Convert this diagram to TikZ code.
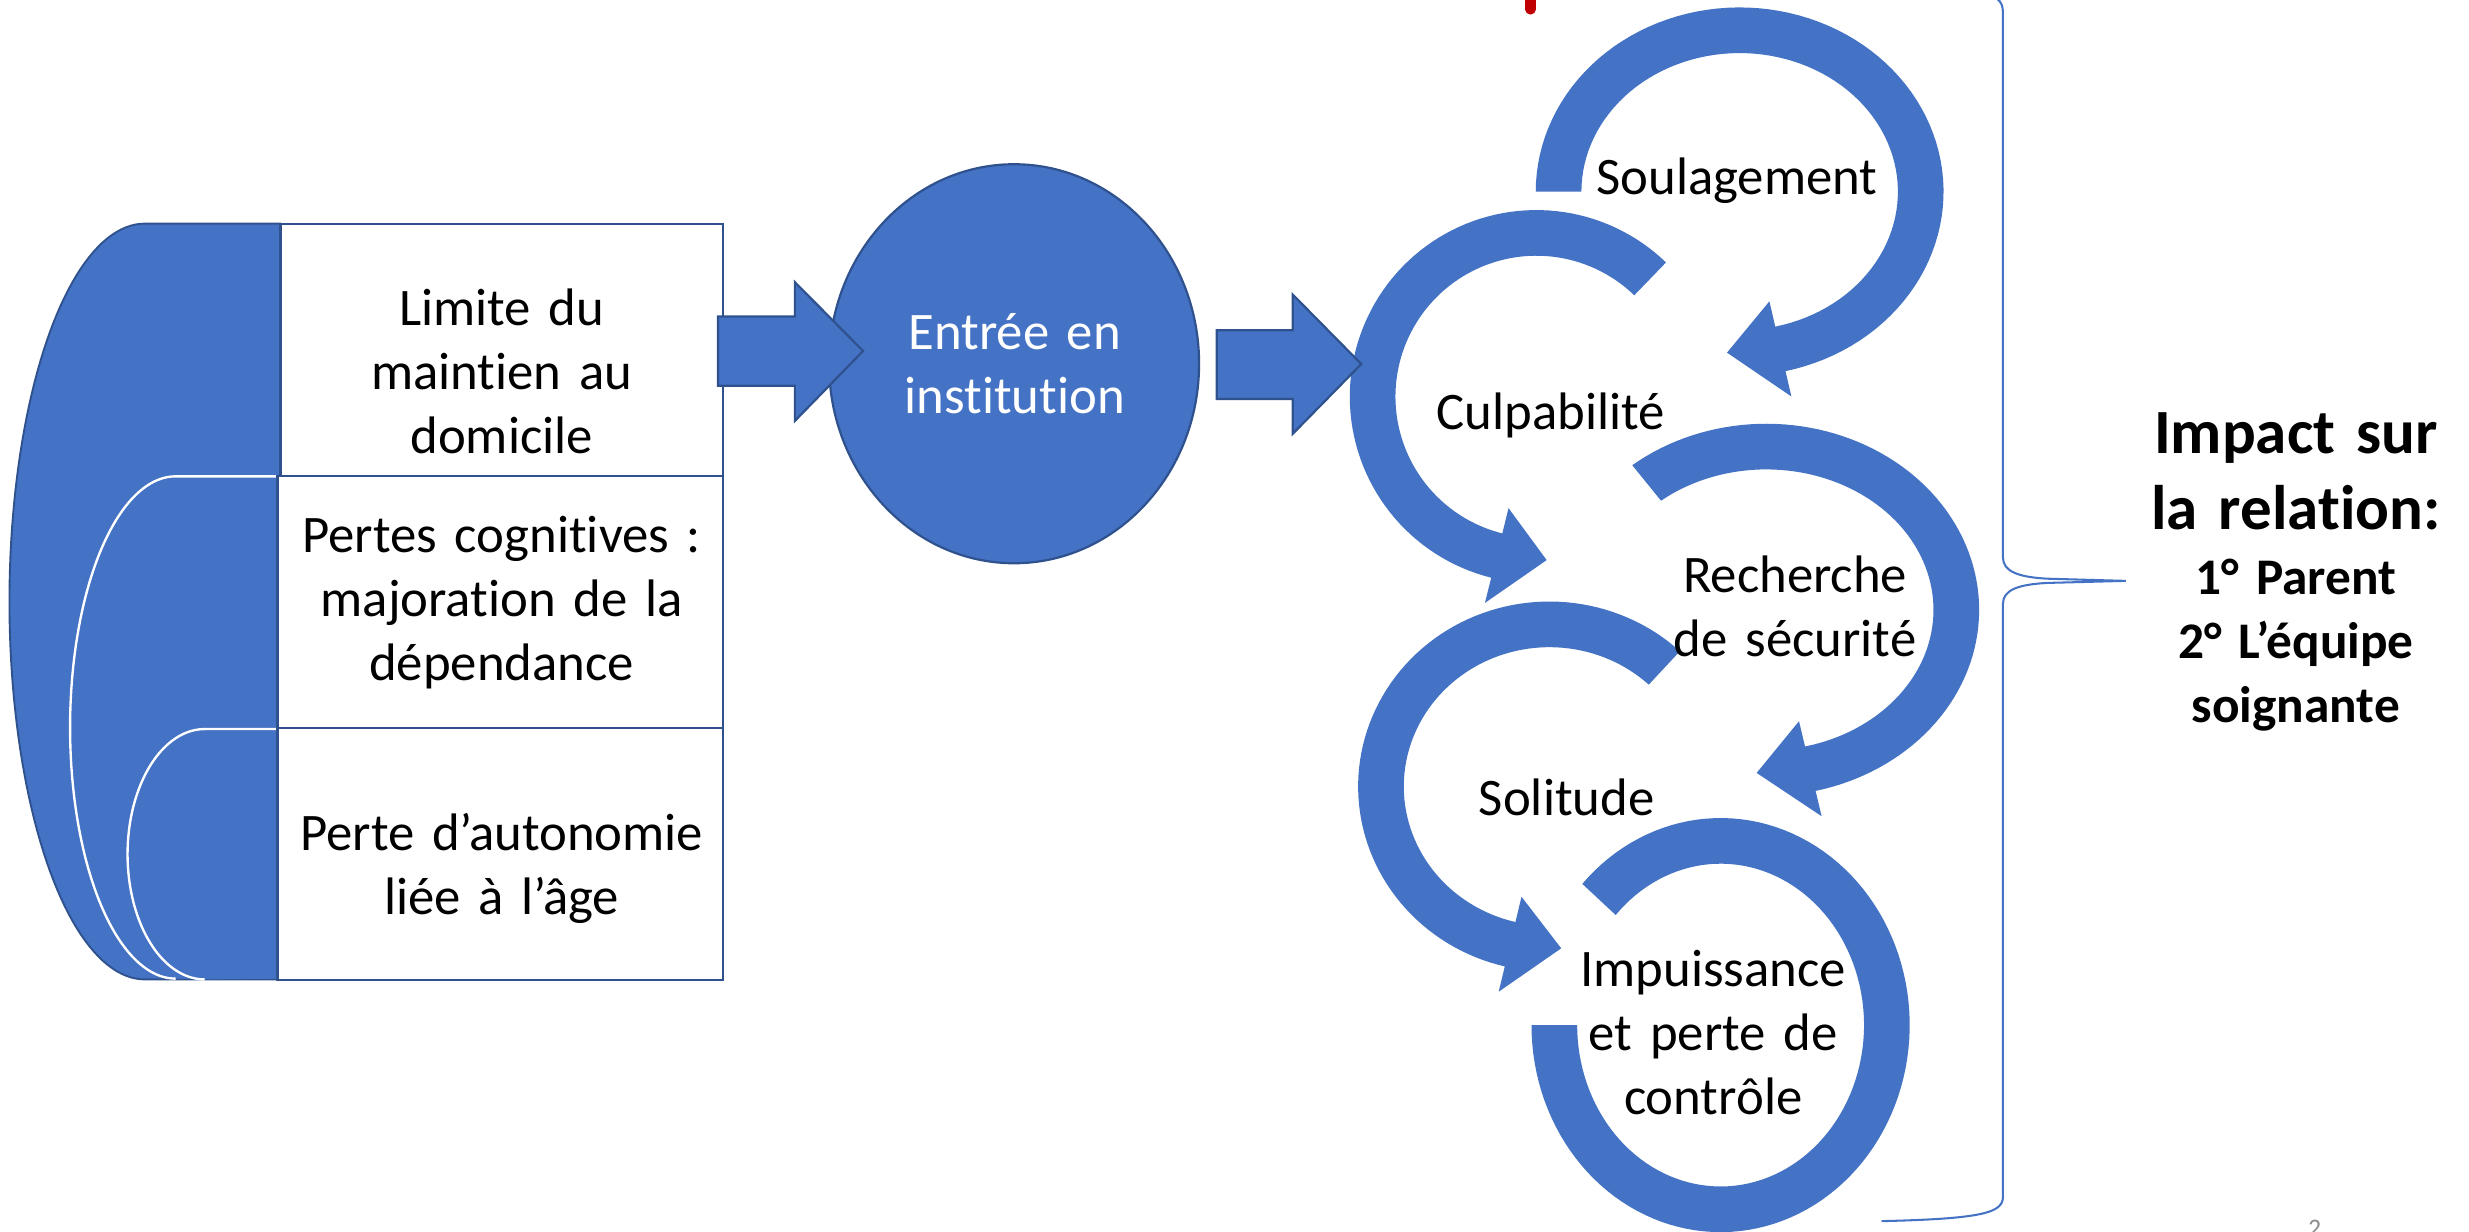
\documentclass[tikz,border=0pt]{standalone}
\usepackage{fontspec}
\setmainfont{Carlito}[Ligatures=NoCommon]
\usetikzlibrary{shapes.geometric}
\definecolor{accblue}{HTML}{4472C4}
\definecolor{edgeblue}{HTML}{2F528F}
\definecolor{slidered}{HTML}{C00000}
\definecolor{pagegray}{HTML}{8B8B8B}
% circular arrow: cx, cy, a, b, start angle, end angle (head base), tip angle
\newcommand{\cyclearrow}[7]{%
  \fill[accblue] plot[domain=#5:#6, samples=90] ({#1+(#3+14.5)*cos(\x)}, {#2+(#4+14.5)*sin(\x)})
    -- ({#1+(#3+31)*cos(#6)}, {#2+(#4+31)*sin(#6)})
    -- ({#1+#3*cos(#7)}, {#2+#4*sin(#7)})
    -- ({#1+(#3-31)*cos(#6)}, {#2+(#4-31)*sin(#6)})
    -- plot[domain=#6:#5, samples=90] ({#1+(#3-14.5)*cos(\x)}, {#2+(#4-14.5)*sin(\x)})
    -- cycle;}
\begin{document}
\begin{tikzpicture}[x=1pt, y=-1pt,
  cellbox/.style={draw=edgeblue, line width=1.6, fill=white, inner sep=0, minimum width=281, minimum height=160},
  lbl/.style={font=\fontsize{33.5}{40.6}\selectfont, text width=300, align=center, anchor=base, inner sep=0},
  blockarrow/.style={fill=accblue, draw=edgeblue, line width=1.4, line join=miter},
  bigbold/.style={font=\fontsize{40}{48.4}\selectfont\bfseries, text width=260, align=center, anchor=base, inner sep=0},
  smallbold/.style={font=\fontsize{32.6}{40.4}\selectfont\bfseries, text width=260, align=center, anchor=base, inner sep=0}]
\clip (0,0) rectangle (1568,781.8);
\fill[white] (0,0) rectangle (1568,781.8);

% ---- left stacked shapes
\filldraw[fill=accblue, draw=edgeblue, line width=1.2] (178,142) -- (92,142)
  -- plot[domain=270:90, samples=90] ({92+86*cos(\x)}, {382+240*sin(\x)}) -- (178,622) -- cycle;
\fill[accblue] (178,302.5) -- (111.5,302.5)
  -- plot[domain=270:90, samples=90] ({111.5+67*cos(\x)}, {462+159.5*sin(\x)}) -- (178,621.5) -- cycle;
\draw[white, line width=1.5] (178,302.5) -- (111.5,302.5)
  -- plot[domain=270:90, samples=90] ({111.5+67*cos(\x)}, {462+159.5*sin(\x)});
\fill[accblue] (178,463) -- (130,463)
  -- plot[domain=270:90, samples=90] ({130+49*cos(\x)}, {542.5+79.5*sin(\x)}) -- (178,621.5) -- cycle;
\draw[white, line width=1.5] (178,463) -- (130,463)
  -- plot[domain=270:90, samples=90] ({130+49*cos(\x)}, {542.5+79.5*sin(\x)});

% ---- boxes
\node[cellbox] (box1) at (318.6,222.2) {};
\node[cellbox, minimum width=283] (box2) at (317.6,382.3) {};
\node[cellbox, minimum width=283] (box3) at (317.6,542.3) {};
\node[lbl] (t1) at (318.6,206.7) {Limite du\\maintien au\\domicile};
\node[lbl] (t2) at (318.6,350.7) {Pertes cognitives :\\majoration de la\\dépendance};
\node[lbl] (t3) at (318.6,540) {Perte d’autonomie\\liée à l’âge};

% ---- institution ellipse
\node[ellipse, draw=edgeblue, fill=accblue, line width=1.4, minimum width=235, minimum height=253.4, inner sep=0] (inst) at (644,231) {};
\node[lbl, text=white] (instlbl) at (644.4,222.2) {Entrée en\\institution};

% ---- cycle of circular arrows
\cyclearrow{1104.8}{121.7}{115}{102.5}{180}{437}{454}
\cyclearrow{975.7}{251.9}{104}{104}{-46}{-256}{-273.6}
\cyclearrow{1121.7}{387.3}{120.7}{103.7}{231}{436.6}{452.9}
\cyclearrow{984}{499.5}{107}{103}{-47}{-256.5}{-274}
\fill[accblue] plot[domain=223:540, samples=120] ({1092.7+120.1*cos(\x)}, {651+131.5*sin(\x)})
  -- plot[domain=540:223, samples=120] ({1092.7+91.1*cos(\x)}, {651+102.5*sin(\x)}) -- cycle;

% ---- block arrows
\filldraw[blockarrow] (456,201) -- (504.8,201) -- (504.8,179.2) -- (548.1,222.9)
  -- (504.8,267.3) -- (504.8,245) -- (456,245) -- cycle;
\filldraw[blockarrow] (772.7,209.7) -- (821,209.7) -- (821,187.1) -- (864.5,231.2)
  -- (821,275.5) -- (821,253.4) -- (772.7,253.4) -- cycle;

% ---- cycle labels
\node[lbl] (soul) at (1103,123.8) {Soulagement};
\node[lbl] (culp) at (985,273) {Culpabilité};
\node[lbl] (rech) at (1140,376.3) {Recherche\\de sécurité};
\node[lbl] (soli) at (995,518.1) {Solitude};
\node[lbl] (impu) at (1088,626.5) {Impuissance\\et perte de\\contrôle};

% ---- brace
\draw[accblue, line width=1.3] (1255,-4) .. controls (1268,-3) and (1272,0) .. (1272,8)
  -- (1272,354) .. controls (1272,363) and (1282,366.5) .. (1300,367.5) -- (1350,368.9)
  -- (1300,370.2) .. controls (1282,371.2) and (1272,374.5) .. (1272,383.5)
  -- (1272,760) .. controls (1272,770) and (1260,774) .. (1195,775.5);

% ---- right text
\node[bigbold] (impact) at (1458,288) {Impact sur\\la relation:};
\node[smallbold] (who) at (1458,377.8) {1° Parent\\2° L’équipe\\soignante};

% ---- red mark and page number
\draw[slidered, line width=6.5, line cap=round] (972,-5) -- (972,6);
\node[font=\fontsize{16}{19}\selectfont, text=pagegray, anchor=base, inner sep=0] (pgnum) at (1470,785) {2};
\end{tikzpicture}
\end{document}
